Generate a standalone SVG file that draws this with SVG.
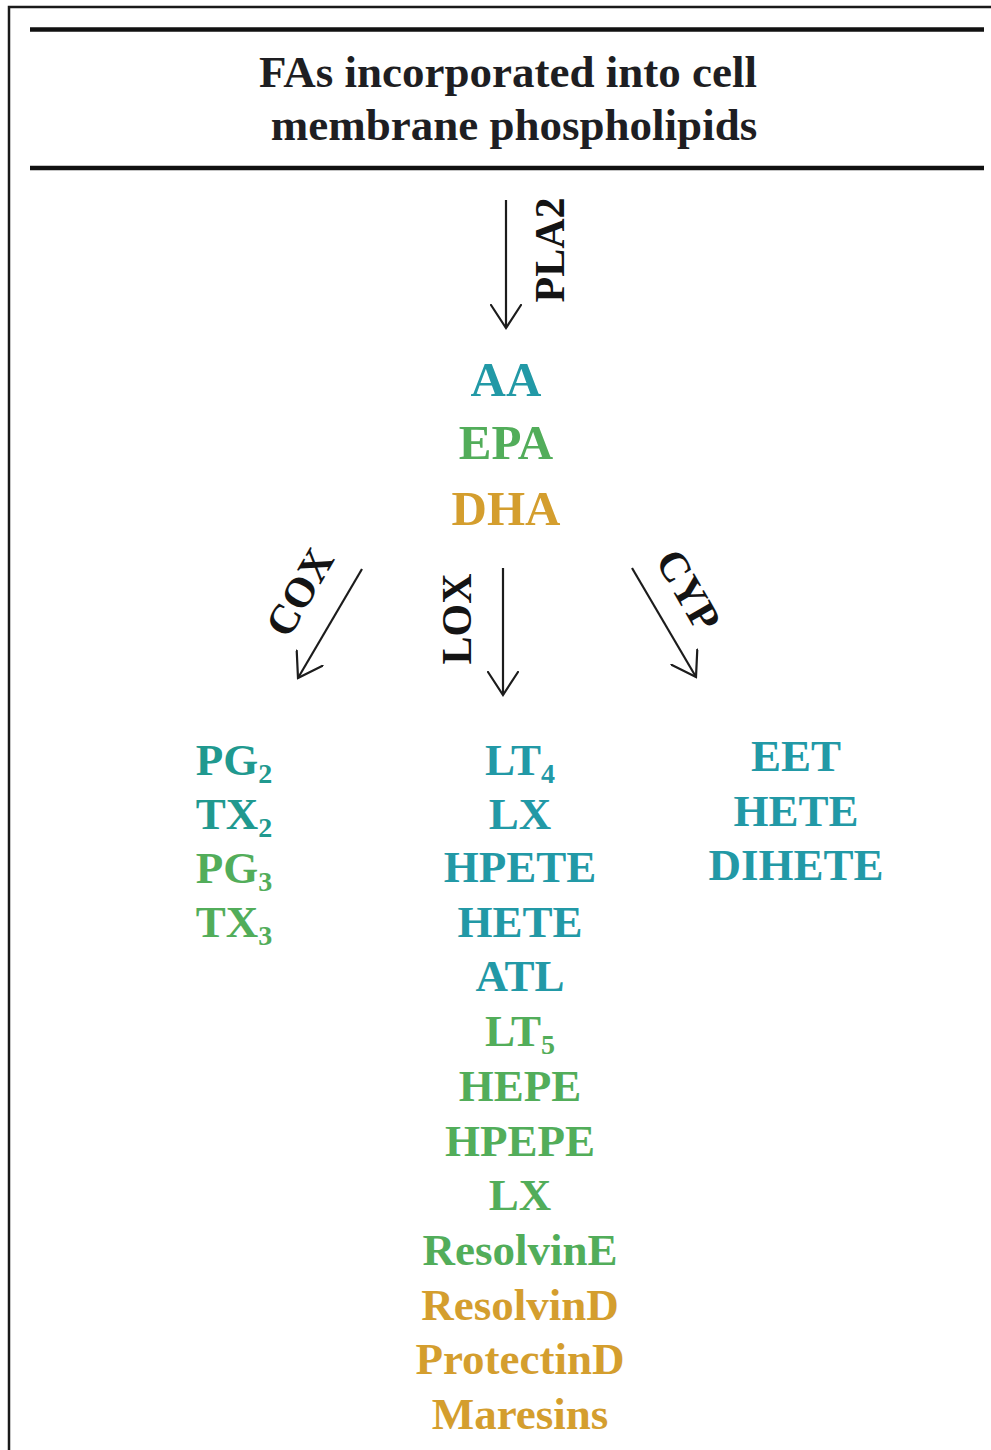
<svg xmlns="http://www.w3.org/2000/svg" width="991" height="1450" viewBox="0 0 991 1450">
  <defs>
    <marker id="openHead" viewBox="0 0 26 32" refX="24" refY="16" markerWidth="26" markerHeight="32" markerUnits="userSpaceOnUse" orient="auto">
      <path d="M1,1 L24,16 L1,31" fill="none" stroke="#1c1c1c" stroke-width="2.2" stroke-linecap="round" stroke-linejoin="miter"/>
    </marker>
    <style>
      .frame { fill: none; stroke: #1a1a1a; stroke-width: 2.5; }
      .rule { stroke: #111; stroke-width: 4.5; }
      .title { font-family: "Liberation Serif", "Times New Roman", serif; font-weight: bold; font-size: 45px; fill: #1e1e22; text-anchor: middle; }
      .enz { font-family: "Liberation Serif", "Times New Roman", serif; font-weight: bold; font-size: 42px; fill: #141414; text-anchor: middle; }
      .conn { fill: none; stroke: #1c1c1c; stroke-width: 2.2; marker-end: url(#openHead); }
      .lbl { font-family: "Liberation Serif", "Times New Roman", serif; font-weight: bold; font-size: 45px; text-anchor: middle; }
      .big { font-size: 49px; }
      .aa { fill: #2299a6; }
      .aa2 { fill: #20998f; }
      .epa { fill: #52ad5a; }
      .dha { fill: #d49e2e; }
      .sub { font-size: 28px; }
    </style>
  </defs>

  <rect width="991" height="1450" fill="#ffffff"/>

  <!-- outer frame: left and top edges -->
  <path class="frame" d="M9,1450 L9,7 L991,7"/>

  <!-- header rules and title -->
  <g id="header">
    <line class="rule" x1="30" y1="29.5" x2="984" y2="29.5"/>
    <line class="rule" x1="30" y1="168" x2="984" y2="168"/>
    <text class="title" x="508" y="87">FAs incorporated into cell</text>
    <text class="title" x="514" y="140">membrane phospholipids</text>
  </g>

  <!-- connectors with enzyme labels -->
  <g id="connectors">
    <line class="conn" x1="506" y1="200" x2="506" y2="328"/>
    <line class="conn" x1="362" y1="569" x2="298" y2="678"/>
    <line class="conn" x1="503" y1="568" x2="503" y2="695"/>
    <line class="conn" x1="632" y1="568" x2="696" y2="677"/>
    <text class="enz" transform="translate(549,250) rotate(-90)" dy="0.35em">PLA2</text>
    <text class="enz" transform="translate(299,592) rotate(-60)" dy="0.35em">COX</text>
    <text class="enz" transform="translate(456,619) rotate(-90)" dy="0.35em">LOX</text>
    <text class="enz" transform="translate(689,590) rotate(60)" dy="0.35em">CYP</text>
  </g>

  <!-- precursor fatty acids -->
  <g id="precursors">
    <text class="lbl big aa" x="506" y="396">AA</text>
    <text class="lbl big epa" x="506" y="459">EPA</text>
    <text class="lbl big dha" x="506" y="525">DHA</text>
  </g>

  <!-- COX products -->
  <g id="cox-products">
    <text class="lbl aa2" x="234" y="775">PG<tspan class="sub" dy="8">2</tspan></text>
    <text class="lbl aa2" x="234" y="829">TX<tspan class="sub" dy="8">2</tspan></text>
    <text class="lbl epa" x="234" y="883">PG<tspan class="sub" dy="8">3</tspan></text>
    <text class="lbl epa" x="234" y="937">TX<tspan class="sub" dy="8">3</tspan></text>
  </g>

  <!-- LOX products -->
  <g id="lox-products">
    <text class="lbl aa" x="520" y="775">LT<tspan class="sub" dy="8">4</tspan></text>
    <text class="lbl aa" x="520" y="829">LX</text>
    <text class="lbl aa" x="520" y="882">HPETE</text>
    <text class="lbl aa" x="520" y="937">HETE</text>
    <text class="lbl aa" x="520" y="991">ATL</text>
    <text class="lbl epa" x="520" y="1046">LT<tspan class="sub" dy="8">5</tspan></text>
    <text class="lbl epa" x="520" y="1101">HEPE</text>
    <text class="lbl epa" x="520" y="1156">HPEPE</text>
    <text class="lbl epa" x="520" y="1210">LX</text>
    <text class="lbl epa" x="520" y="1265">ResolvinE</text>
    <text class="lbl dha" x="520" y="1320">ResolvinD</text>
    <text class="lbl dha" x="520" y="1374">ProtectinD</text>
    <text class="lbl dha" x="520" y="1429">Maresins</text>
  </g>

  <!-- CYP products -->
  <g id="cyp-products">
    <text class="lbl aa" x="796" y="771">EET</text>
    <text class="lbl aa" x="796" y="826">HETE</text>
    <text class="lbl aa" x="796" y="880">DIHETE</text>
  </g>
</svg>
